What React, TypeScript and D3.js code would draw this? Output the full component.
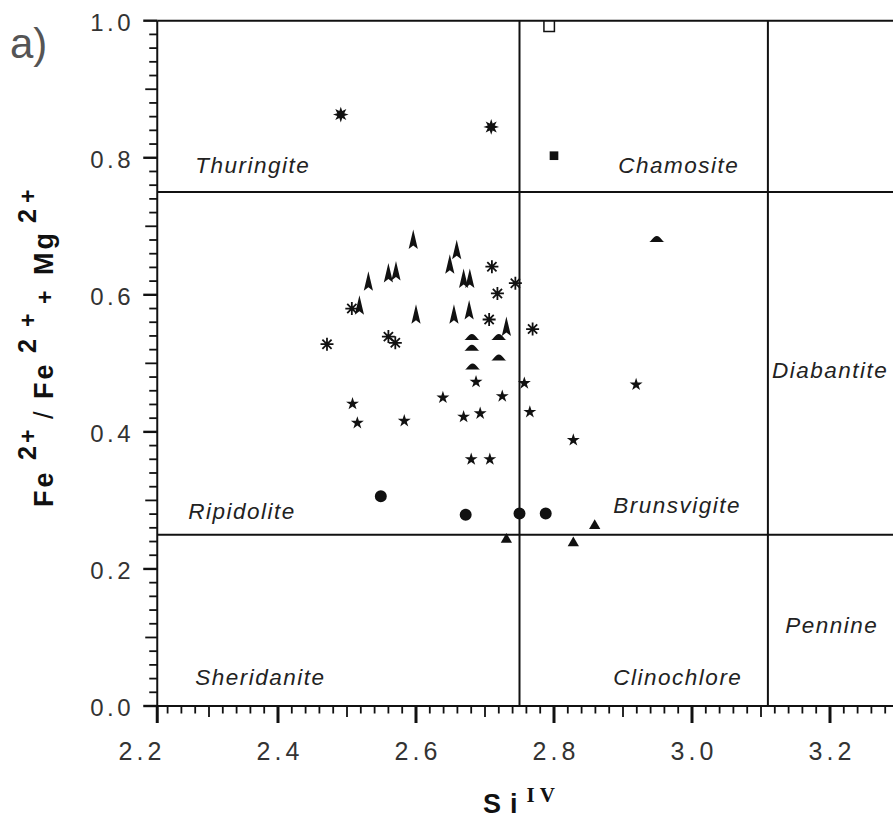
import React from "react";
import * as d3 from "d3";

// ---- tick labels ----
const xTickLabels = [2.2, 2.4, 2.6, 2.8, 3.0, 3.2];
const yTickLabels = [0.0, 0.2, 0.4, 0.6, 0.8, 1.0];

// ---- classification field boundaries ----
const siBoundaries = [2.75, 3.11];
const feBoundaries = [0.25, 0.75];

// ---- field names and their anchor (Si, Fe ratio) ----
const fieldNames = [
  "Thuringite",
  "Chamosite",
  "Diabantite",
  "Ripidolite",
  "Brunsvigite",
  "Sheridanite",
  "Clinochlore",
  "Pennine",
];
const fieldAnchors: [number, number][] = [
  [2.28, 0.778],
  [2.893, 0.778],
  [3.116, 0.479],
  [2.27, 0.273],
  [2.886, 0.282],
  [2.28, 0.031],
  [2.886, 0.031],
  [3.135, 0.107],
];

// ---- data series (Si IV, Fe/(Fe+Mg)) ----
const spikeData: [number, number][] = [
  [2.596, 0.68], [2.659, 0.665], [2.649, 0.644], [2.531, 0.619], [2.56, 0.631],
  [2.571, 0.634], [2.669, 0.623], [2.678, 0.623], [2.518, 0.584], [2.6, 0.571],
  [2.655, 0.571], [2.677, 0.577], [2.731, 0.553],
];
const asteriskData: [number, number][] = [
  [2.71, 0.641], [2.744, 0.617], [2.718, 0.602], [2.507, 0.58], [2.706, 0.564],
  [2.769, 0.55], [2.56, 0.539], [2.57, 0.53], [2.471, 0.528],
];
const domeData: [number, number][] = [
  [2.681, 0.538], [2.681, 0.522], [2.72, 0.538], [2.72, 0.508], [2.682, 0.495], [2.949, 0.681],
];
const starData: [number, number][] = [
  [2.687, 0.473], [2.757, 0.471], [2.639, 0.45], [2.725, 0.452], [2.508, 0.441],
  [2.693, 0.427], [2.669, 0.422], [2.765, 0.429], [2.515, 0.413], [2.583, 0.416],
  [2.828, 0.388], [2.68, 0.36], [2.707, 0.36], [2.919, 0.469],
];
const circleData: [number, number][] = [
  [2.549, 0.306], [2.672, 0.279], [2.75, 0.281], [2.788, 0.281],
];
const triangleData: [number, number][] = [
  [2.731, 0.243], [2.828, 0.238], [2.859, 0.263],
];
const burstData: [number, number][] = [
  [2.491, 0.863], [2.709, 0.845],
];
const openSquareData: [number, number][] = [[2.793, 0.992]];
const filledSquareData: [number, number][] = [[2.8, 0.803]];

// ---- layout ----
const W = 893;
const H = 823;
const FRAME_X0 = 2.225;
const FRAME_X1 = 3.3;

const x = d3.scaleLinear().domain([2.2, 3.2]).range([140, 830]);
const y = d3.scaleLinear().domain([0, 1]).range([706, 20.7]);

const INK = "#111";

// custom marker paths
const spikePath = "M0,-10.5L4.6,9L0,5.5L-4.6,9Z";
const domePath = "M-7.8,2.6C-5.5,2.6 -3.8,-3.4 0,-3.4C3.8,-3.4 5.5,2.6 7.8,2.6Z";
const asteriskPath = d3
  .range(4)
  .map((k) => {
    const a = (k * Math.PI) / 4;
    const r = 6.5;
    return `M${(r * Math.cos(a)).toFixed(2)},${(r * Math.sin(a)).toFixed(2)}L${(-r * Math.cos(a)).toFixed(2)},${(-r * Math.sin(a)).toFixed(2)}`;
  })
  .join("");
const burstPath =
  d3
    .range(16)
    .map((k) => {
      const a = (k * Math.PI) / 8 - Math.PI / 2;
      const r = k % 2 === 0 ? 7.8 : 3.8;
      return `${k === 0 ? "M" : "L"}${(r * Math.cos(a)).toFixed(2)},${(r * Math.sin(a)).toFixed(2)}`;
    })
    .join("") + "Z";

const circlePath = d3.symbol(d3.symbolCircle, 113)()!;
const trianglePath = d3.symbol(d3.symbolTriangle, 55)()!;
const starPath = d3.symbol(d3.symbolStar, 52)()!;
const openSquarePath = d3.symbol(d3.symbolSquare, 110)()!;
const filledSquarePath = d3.symbol(d3.symbolSquare, 75)()!;

const fmt = d3.format(".1f");

function Markers({
  data,
  d,
  fill,
  stroke,
  strokeWidth,
}: {
  data: [number, number][];
  d: string;
  fill: string;
  stroke?: string;
  strokeWidth?: number;
}) {
  return (
    <g>
      {data.map(([sx, fy], i) => (
        <path
          key={i}
          d={d}
          transform={`translate(${x(sx)},${y(fy)})`}
          fill={fill}
          stroke={stroke ?? "none"}
          strokeWidth={strokeWidth ?? 0}
        />
      ))}
    </g>
  );
}

export default function App() {
  const xL = x(FRAME_X0);
  const xR = x(FRAME_X1);
  const yB = y(0);
  const yT = y(1);

  const xTicks = d3.range(110, 166).map((i) => {
    const v = i / 50;
    const raw = x(v);
    const major = i % 10 === 0;
    const mid = i % 5 === 0;
    if (raw < xL && !major) return null;
    const px = Math.max(raw, xL);
    const len = major ? 17 : mid ? 11 : 7.5;
    const sw = major ? 3 : 1.8;
    return <line key={"xt" + i} x1={px} x2={px} y1={yB} y2={yB + len} stroke={INK} strokeWidth={sw} />;
  });

  const yTicks = d3.range(0, 51).map((i) => {
    const v = i / 50;
    const py = y(v);
    const major = i % 10 === 0;
    const mid = i % 5 === 0;
    const len = major ? 14 : mid ? 12 : 8;
    const sw = major ? 2.4 : 1.8;
    return <line key={"yt" + i} x1={xL - len} x2={xL} y1={py} y2={py} stroke={INK} strokeWidth={sw} />;
  });

  const tickFont = "'Liberation Sans', Arial, sans-serif";

  return (
    <svg
      width={W}
      height={H}
      viewBox={`0 0 ${W} ${H}`}
      style={{ position: "absolute", left: 0, top: 0, background: "#fff" }}
    >
      <rect x={0} y={0} width={W} height={H} fill="#fff" />

      {/* panel label */}
      <text x={10} y={58} fontFamily={tickFont} fontSize={42} fontWeight={300} fill="#555">
        a)
      </text>

      {/* frame */}
      <line x1={xL} x2={xR} y1={yT} y2={yT} stroke={INK} strokeWidth={2} />
      <line x1={xL} x2={xR} y1={yB} y2={yB} stroke={INK} strokeWidth={2} />
      <line x1={xL} x2={xL} y1={yT} y2={yB} stroke={INK} strokeWidth={2} />
      <line x1={xR} x2={xR} y1={yT} y2={yB} stroke={INK} strokeWidth={2} />

      {/* field boundaries */}
      {feBoundaries.map((v) => (
        <line key={"h" + v} x1={xL} x2={xR} y1={y(v)} y2={y(v)} stroke={INK} strokeWidth={2} />
      ))}
      {siBoundaries.map((v) => (
        <line key={"v" + v} x1={x(v)} x2={x(v)} y1={yT} y2={yB} stroke={INK} strokeWidth={2} />
      ))}

      {xTicks}
      {yTicks}

      {/* tick labels */}
      {xTickLabels.map((v) => (
        <text
          key={"xl" + v}
          x={x(v) + 2}
          y={760}
          textAnchor="middle"
          fontFamily={tickFont}
          fontSize={25}
          letterSpacing={4}
          fill="#333"
        >
          {fmt(v)}
        </text>
      ))}
      {yTickLabels.map((v) => (
        <text
          key={"yl" + v}
          x={134}
          y={y(v) + 10}
          textAnchor="end"
          fontFamily={tickFont}
          fontSize={24}
          letterSpacing={3.5}
          fill="#333"
        >
          {fmt(v)}
        </text>
      ))}

      {/* field names */}
      {fieldNames.map((name, i) => (
        <text
          key={name}
          x={x(fieldAnchors[i][0])}
          y={y(fieldAnchors[i][1])}
          fontFamily={tickFont}
          fontStyle="italic"
          fontSize={22.5}
          letterSpacing={1.5}
          fill="#222"
        >
          {name}
        </text>
      ))}

      {/* data */}
      <Markers data={spikeData} d={spikePath} fill={INK} />
      <Markers data={asteriskData} d={asteriskPath} fill="none" stroke={INK} strokeWidth={1.8} />
      <Markers data={domeData} d={domePath} fill={INK} />
      <Markers data={starData} d={starPath} fill={INK} />
      <Markers data={circleData} d={circlePath} fill={INK} />
      <Markers data={triangleData} d={trianglePath} fill={INK} />
      <Markers data={burstData} d={burstPath} fill={INK} />
      <Markers data={openSquareData} d={openSquarePath} fill="#fff" stroke={INK} strokeWidth={1.5} />
      <Markers data={filledSquareData} d={filledSquarePath} fill={INK} />

      {/* x axis title */}
      <text x={483} y={813} fontFamily={tickFont} fontWeight="bold" fontSize={27} letterSpacing={9} fill="#111">
        Si
        <tspan dy={-11} fontFamily="'Liberation Serif', serif" fontSize={21} letterSpacing={5}>
          IV
        </tspan>
      </text>

      {/* y axis title */}
      <g transform="translate(53,507) rotate(-90)">
        <text fontFamily={tickFont} fontWeight="bold" fontSize={27} letterSpacing={3} fill="#111">
          <tspan x={0} y={0}>Fe</tspan>
          <tspan x={47} y={-17} fontSize={25}>2</tspan>
          <tspan x={64} y={-17} fontSize={23}>+</tspan>
          <tspan x={88} y={0} fontWeight="normal">/</tspan>
          <tspan x={108} y={0}>Fe</tspan>
          <tspan x={154} y={-17} fontSize={25}>2</tspan>
          <tspan x={180} y={-17} fontSize={23}>+</tspan>
          <tspan x={203} y={0} fontSize={23}>+</tspan>
          <tspan x={232} y={0}>Mg</tspan>
          <tspan x={284} y={-17} fontSize={25}>2</tspan>
          <tspan x={304} y={-17} fontSize={23}>+</tspan>
        </text>
      </g>
    </svg>
  );
}
